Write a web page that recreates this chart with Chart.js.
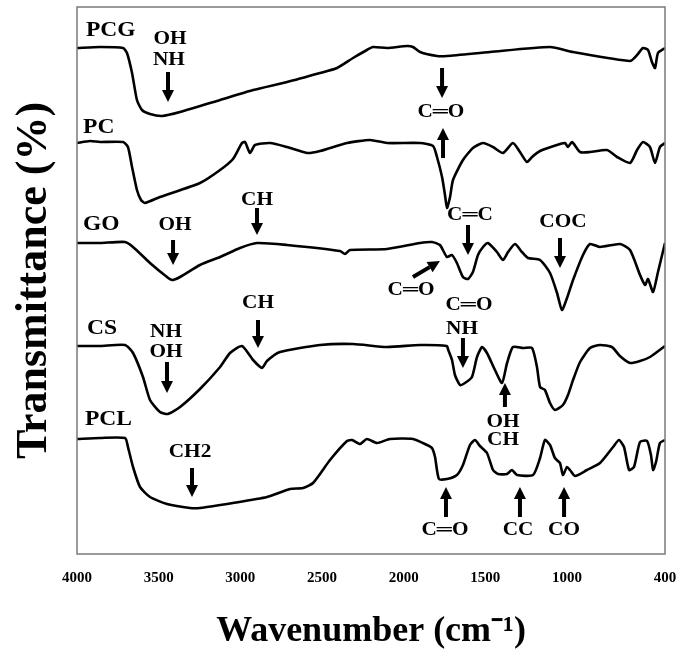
<!DOCTYPE html>
<html>
<head>
<meta charset="utf-8">
<script src="https://cdn.jsdelivr.net/npm/chart.js@4"></script>
<style>
  html, body { margin: 0; padding: 0; background: #fff; }
</style>
</head>
<body>
<canvas id="ftirChart" width="694" height="651"></canvas>
<script>
// FTIR spectra, stacked with vertical offsets (arbitrary units)
// each point: [wavenumber cm-1, offset transmittance]
const pcg = [
  [4000, 506], [3859, 507], [3718, 506], [3694, 501], [3663, 481], [3633, 454], [3602, 444],
  [3553, 440], [3480, 438], [3369, 442], [3124, 454], [2922, 464], [2714, 472], [2512, 481],
  [2408, 486], [2310, 496], [2225, 504], [2188, 507], [2102, 506], [1980, 508], [1943, 507],
  [1900, 502], [1796, 498], [1735, 498], [1471, 502], [1104, 507], [963, 502], [614, 493],
  [571, 499], [535, 506], [504, 504], [480, 492], [461, 486], [443, 501], [400, 506]
];
const pc = [
  [4000, 411], [3920, 413], [3859, 412], [3718, 412], [3688, 407], [3663, 387], [3633, 364],
  [3608, 354], [3584, 351], [3492, 357], [3247, 371], [3124, 384], [3045, 395], [2990, 411],
  [2971, 412], [2941, 401], [2910, 409], [2818, 411], [2714, 407], [2592, 401], [2512, 403],
  [2347, 411], [2206, 414], [2102, 411], [1900, 411], [1820, 408], [1796, 397], [1765, 377],
  [1747, 359], [1735, 346], [1716, 357], [1698, 374], [1637, 394], [1576, 406], [1514, 411],
  [1453, 407], [1392, 401], [1331, 411], [1288, 402], [1245, 392], [1214, 397], [1165, 403],
  [1043, 410], [1012, 411], [994, 407], [969, 412], [920, 402], [859, 402], [755, 404],
  [694, 397], [614, 391], [571, 404], [535, 412], [492, 407], [461, 391], [431, 407], [400, 411]
];
const go = [
  [4000, 311], [3859, 311], [3706, 312], [3657, 307], [3553, 291], [3449, 277], [3418, 274],
  [3369, 277], [3247, 289], [3124, 297], [3002, 306], [2898, 311], [2714, 309], [2390, 303],
  [2359, 300], [2329, 304], [2102, 305], [1900, 311], [1827, 312], [1778, 309], [1735, 297],
  [1704, 299], [1674, 291], [1637, 277], [1606, 275], [1576, 282], [1545, 299], [1514, 307],
  [1484, 311], [1429, 302], [1392, 294], [1361, 302], [1318, 310], [1276, 302], [1239, 296],
  [1165, 294], [1104, 281], [1061, 261], [1031, 244], [1000, 256], [963, 274], [902, 299],
  [859, 310], [798, 307], [676, 310], [614, 304], [553, 279], [522, 269], [504, 275],
  [473, 262], [443, 282], [400, 311]
];
const cs = [
  [4000, 208], [3859, 208], [3706, 209], [3657, 201], [3596, 177], [3553, 154], [3492, 142],
  [3443, 140], [3369, 147], [3247, 165], [3124, 187], [3063, 201], [2990, 208], [2922, 194],
  [2867, 186], [2837, 193], [2757, 202], [2512, 209], [2310, 210], [2102, 207], [1900, 209],
  [1735, 208], [1729, 205], [1704, 194], [1686, 179], [1655, 169], [1625, 171], [1582, 177],
  [1551, 197], [1520, 207], [1490, 201], [1441, 184], [1398, 171], [1367, 191], [1331, 207],
  [1269, 206], [1214, 206], [1184, 187], [1165, 167], [1135, 164], [1104, 151], [1074, 144],
  [1025, 149], [994, 159], [963, 174], [920, 192], [859, 206], [798, 209], [725, 207],
  [676, 198], [614, 191], [553, 193], [492, 197], [400, 208]
];
const pcl = [
  [4000, 115], [3859, 116], [3706, 116], [3688, 107], [3657, 87], [3614, 67], [3553, 57],
  [3449, 50], [3308, 46], [3247, 46], [3045, 51], [2837, 57], [2696, 65], [2616, 66],
  [2555, 71], [2451, 94], [2347, 113], [2316, 114], [2267, 110], [2225, 115], [2163, 111],
  [2084, 115], [1943, 115], [1857, 109], [1827, 106], [1808, 97], [1784, 75], [1735, 75],
  [1674, 79], [1637, 89], [1594, 109], [1563, 114], [1533, 108], [1490, 101], [1453, 84],
  [1422, 80], [1367, 80], [1337, 84], [1306, 79], [1208, 79], [1165, 96], [1135, 114],
  [1104, 109], [1074, 96], [1043, 91], [1025, 79], [1000, 87], [982, 84], [951, 78],
  [878, 84], [798, 91], [718, 107], [682, 114], [651, 107], [620, 84], [590, 87],
  [553, 112], [510, 113], [486, 99], [473, 84], [455, 92], [431, 111], [400, 114]
];

const sampleNames = ['PCG', 'PC', 'GO', 'CS', 'PCL'];
const spectra = [pcg, pc, go, cs, pcl];

const tickValues = [4000, 3500, 3000, 2500, 2000, 1500, 1000, 400];
const tickLabels = ['4000', '3500', '3000', '2500', '2000', '1500', '1000', '400'];

// sample names, left aligned: [text, wavenumber, level]
const nameTags = [
  ['PCG', 3945, 523], ['PC', 3963, 426], ['GO', 3963, 329], ['CS', 3939, 225], ['PCL', 3951, 134]
];

// band assignments, centred: [text, wavenumber, level]
const bandTags = [
  ['OH', 3431, 515], ['NH', 3437, 494],
  ['C\u2550O', 1772, 442],
  ['OH', 3400, 329], ['CH', 2898, 354], ['C\u2550C', 1594, 339], ['C\u2550O', 1955, 264], ['COC', 1025, 332],
  ['NH', 3455, 222], ['OH', 3455, 202], ['CH', 2892, 251], ['C\u2550O', 1600, 249], ['NH', 1643, 225],
  ['OH', 1392, 132], ['CH', 1392, 114],
  ['CH2', 3308, 102], ['C\u2550O', 1747, 24], ['CC', 1300, 24], ['CO', 1018, 24]
];

// arrows: [wavenumber tail, level tail, wavenumber tip, level tip]
const bandArrows = [
  [3443, 482, 3443, 452],
  [1765, 486, 1765, 456],
  [1759, 396, 1759, 426],
  [3412, 314, 3412, 289],
  [2898, 346, 2898, 319],
  [1606, 329, 1606, 299],
  [1943, 277, 1778, 293],
  [1043, 316, 1043, 286],
  [1637, 216, 1637, 186],
  [3449, 192, 3449, 161],
  [2892, 234, 2892, 206],
  [1380, 147, 1380, 171],
  [3296, 86, 3296, 57],
  [1741, 37, 1741, 67],
  [1288, 37, 1288, 67],
  [1018, 37, 1018, 67]
];

const serif = "'Liberation Serif', 'Times New Roman', serif";

// box around the plotting area
const frame = {
  id: 'frame',
  afterDraw(chart) {
    const { ctx, chartArea: a } = chart;
    ctx.save();
    ctx.strokeStyle = '#7a7a7a';
    ctx.lineWidth = 1.5;
    ctx.strokeRect(a.left, a.top, a.right - a.left, a.bottom - a.top);
    ctx.restore();
  }
};

function arrow(ctx, x0, y0, x1, y1) {
  const ang = Math.atan2(y1 - y0, x1 - x0);
  const head = 12, half = 6;
  const bx = x1 - head * Math.cos(ang), by = y1 - head * Math.sin(ang);
  ctx.beginPath();
  ctx.lineWidth = 4;
  ctx.moveTo(x0, y0);
  ctx.lineTo(bx, by);
  ctx.stroke();
  ctx.beginPath();
  ctx.moveTo(x1, y1);
  ctx.lineTo(bx + half * Math.sin(ang), by - half * Math.cos(ang));
  ctx.lineTo(bx - half * Math.sin(ang), by + half * Math.cos(ang));
  ctx.closePath();
  ctx.fill();
}

// sample names, band labels and arrows
const bands = {
  id: 'bands',
  afterDatasetsDraw(chart) {
    const { ctx, scales: { x, y } } = chart;
    ctx.save();
    ctx.fillStyle = '#000';
    ctx.strokeStyle = '#000';
    ctx.textBaseline = 'middle';

    const put = (text, w, v, size, align) => {
      ctx.save();
      ctx.translate(x.getPixelForValue(w), y.getPixelForValue(v));
      ctx.scale(1.12, 1);
      ctx.font = 'bold ' + size + 'px ' + serif;
      ctx.textAlign = align;
      ctx.fillText(text, 0, 0);
      ctx.restore();
    };
    nameTags.forEach(([t, w, v]) => put(t, w, v, 21, 'left'));
    bandTags.forEach(([t, w, v]) => put(t, w, v, 19, 'center'));
    bandArrows.forEach(([w0, v0, w1, v1]) => {
      arrow(ctx, x.getPixelForValue(w0), y.getPixelForValue(v0),
                 x.getPixelForValue(w1), y.getPixelForValue(v1));
    });
    ctx.restore();
  }
};

new Chart(document.getElementById('ftirChart'), {
  type: 'line',
  data: {
    datasets: spectra.map((s, i) => ({
      label: sampleNames[i],
      data: s.map(([w, t]) => ({ x: w, y: t })),
      borderColor: '#000',
      borderWidth: 2.6,
      pointRadius: 0,
      tension: 0.2,
      fill: false
    }))
  },
  options: {
    responsive: false,
    animation: false,
    devicePixelRatio: 1,
    layout: { padding: { top: 7, right: 29, left: 0, bottom: 0 } },
    plugins: { legend: { display: false }, tooltip: { enabled: false } },
    scales: {
      x: {
        type: 'linear',
        reverse: true,
        min: 400,
        max: 4000,
        grid: { display: false, drawTicks: false },
        border: { display: false },
        afterBuildTicks: s => { s.ticks = tickValues.map(v => ({ value: v })); },
        afterFit: s => { s.height = 97; },
        ticks: {
          autoSkip: false,
          maxRotation: 0,
          padding: 15,
          color: '#000',
          font: { family: serif, size: 15, weight: 'bold' },
          callback: (v, i) => tickLabels[i]
        },
        title: {
          display: true,
          text: 'Wavenumber (cm\u207B\u00B9)',
          color: '#000',
          font: { family: serif, size: 36, weight: 'bold', lineHeight: 1 },
          padding: { top: 0, bottom: 1 }
        }
      },
      y: {
        min: 0,
        max: 547,
        grid: { display: false },
        border: { display: false },
        ticks: { display: false },
        afterFit: s => { s.width = 77; },
        title: {
          display: true,
          text: 'Transmittance (%)',
          color: '#000',
          font: { family: serif, size: 44, weight: 'bold', lineHeight: 1 },
          padding: { top: 13, bottom: 0 }
        }
      }
    }
  },
  plugins: [frame, bands]
});
</script>
</body>
</html>
